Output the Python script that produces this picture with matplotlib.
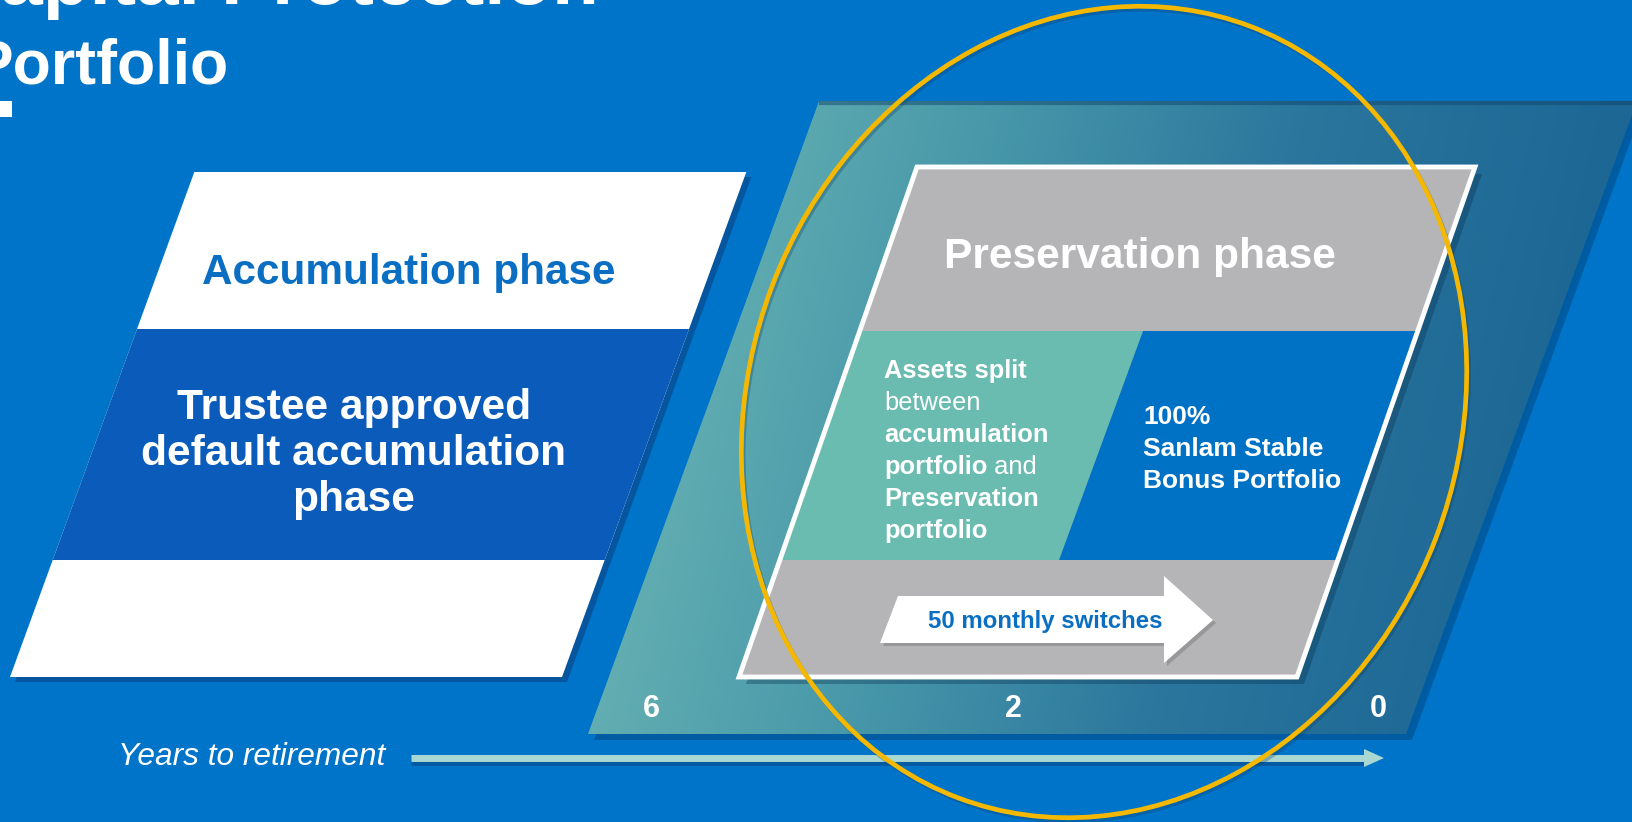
import numpy as np
import matplotlib.pyplot as plt
from matplotlib.patches import Polygon, Ellipse, Rectangle
from matplotlib.colors import LinearSegmentedColormap

plt.rcParams['font.family'] = ['Liberation Sans', 'DejaVu Sans']

W, H = 1633, 822

# slide texts
title_lines = ["Capital Protection", "Portfolio"]
accum_head = "Accumulation phase"
accum_body = ["Trustee approved", "default accumulation", "phase"]
pres_head = "Preservation phase"
split_lines = [["Assets split"], ["between"], ["accumulation"],
               ["portfolio", " and"], ["Preservation"], ["portfolio"]]
split_weights = [["bold"], ["normal"], ["bold"], ["bold", "normal"], ["bold"], ["bold"]]
stable_lines = ["100%", "Sanlam Stable", "Bonus Portfolio"]
switch_label = "50 monthly switches"
years = [6, 2, 0]
years_x = [651, 1013, 1378]
axis_label = "Years to retirement"

bg = '#0074c8'
white = '#ffffff'
dark_band = '#0b5cba'
grey = '#b5b5b7'
teal = '#6abbb0'
mid_blue = '#0072c6'
text_blue = '#0a6fc2'
gold = '#f5b800'


def para(xl_bot, xr_bot, y_top, y_bot, k):
    d = k * (y_bot - y_top)
    return [(xl_bot + d, y_top), (xr_bot + d, y_top), (xr_bot, y_bot), (xl_bot, y_bot)]


def shift(pts, dx, dy):
    return [(x + dx, y + dy) for x, y in pts]


fig = plt.figure(figsize=(W / 100, H / 100), dpi=100)
fig.patch.set_facecolor(bg)
ax = fig.add_axes([0, 0, 1, 1])
ax.set_xlim(0, W)
ax.set_ylim(H, 0)
ax.axis('off')
ax.set_facecolor(bg)

# title (cut off by the slide edge as in the original)
ax.text(-55, 4, title_lines[0], color=white, fontsize=55, fontweight='bold', va='baseline')
ax.text(-28, 83, title_lines[1], color=white, fontsize=45, fontweight='bold', va='baseline')
ax.add_patch(Rectangle((0, 101), 12, 16, color=white, lw=0))

# left parallelogram (accumulation)
k = 0.365
left = para(10, 562, 172, 677, k)
ax.add_patch(Polygon(shift(left, 5, 5), closed=True, color='#084f95', alpha=0.8, lw=0, zorder=1))
ax.add_patch(Polygon(left, closed=True, color=white, lw=0, zorder=2))
band = para(10 + k * 117, 562 + k * 117, 329, 560, k)
ax.add_patch(Polygon(band, closed=True, color=dark_band, lw=0, zorder=3))
ax.text(409, 284, accum_head, color=text_blue, fontsize=30.4, fontweight='bold',
        ha='center', va='baseline', zorder=4)
for i, line in enumerate(accum_body):
    ax.text(354, 419 + 46 * i, line, color=white, fontsize=30.6, fontweight='bold',
            ha='center', va='baseline', zorder=4)

# big teal parallelogram with gradient
big = para(588, 1406, 101, 734, k)
ax.add_patch(Polygon(shift(big, 6, 6), closed=True, color='#003f75', alpha=0.45, lw=0, zorder=1))
big_patch = Polygon(big, closed=True, facecolor='none', lw=0, zorder=2)
ax.add_patch(big_patch)
cmap = LinearSegmentedColormap.from_list('tealgrad', ['#68b3b3', '#4898aa', '#2a769d', '#1d6795'])
gx, gy = np.meshgrid(np.linspace(560, W, 400), np.linspace(95, 740, 120))
grad = np.clip((gx - 600) / 950 + (gy - 420) / 4000, 0, 1)
img = ax.imshow(grad, cmap=cmap, extent=[560, W, 740, 95], origin='upper',
                aspect='auto', zorder=2, interpolation='bilinear')
img.set_clip_path(big_patch)
ax.plot([big[0][0], big[1][0]], [big[0][1] + 2, big[1][1] + 2], color='#12456b',
        lw=3, alpha=0.5, zorder=3, solid_capstyle='butt')

# inner grey parallelogram
k2 = 0.349
inner = para(739, 1297, 167, 677, k2)
ax.add_patch(Polygon(shift(inner, 7, 7), closed=True, color='#0a3050', alpha=0.35, lw=0, zorder=4))
ax.add_patch(Polygon(inner, closed=True, color=grey, lw=0, zorder=5))
yb_top, yb_bot = 331, 560
xl_b = 739 + k2 * (677 - yb_bot)
xr_b = 1297 + k2 * (677 - yb_bot)
d2 = k2 * (yb_bot - yb_top)
div_bot, div_top = 1059, 1143
ax.add_patch(Polygon([(xl_b + d2, yb_top), (div_top, yb_top), (div_bot, yb_bot), (xl_b, yb_bot)],
                     closed=True, color=teal, lw=0, zorder=6))
ax.add_patch(Polygon([(div_top, yb_top), (xr_b + d2, yb_top), (xr_b, yb_bot), (div_bot, yb_bot)],
                     closed=True, color=mid_blue, lw=0, zorder=6))
ax.add_patch(Polygon(inner, closed=True, fill=False, ec=white, lw=3.5, joinstyle='miter', zorder=7))

ax.text(1140, 268, pres_head, color=white, fontsize=30.6, fontweight='bold',
        ha='center', va='baseline', zorder=8)

fig.canvas.draw()
renderer = fig.canvas.get_renderer()
for i, (parts, weights) in enumerate(zip(split_lines, split_weights)):
    x = 884
    for part, wt in zip(parts, weights):
        t = ax.text(x, 378 + 32 * i, part, color=white, fontsize=18.4, fontweight=wt,
                    ha='left', va='baseline', zorder=8)
        bb = t.get_window_extent(renderer=renderer)
        x += bb.width * (W / fig.bbox.width)

for i, line in enumerate(stable_lines):
    ax.text(1143, 424 + 32 * i, line, color=white, fontsize=19, fontweight='bold',
            ha='left', va='baseline', zorder=8)

# switch arrow
arrow = [(898, 596), (1164, 596), (1164, 576), (1213, 620), (1164, 663), (1164, 643), (880, 643)]
ax.add_patch(Polygon(shift(arrow, 3, 3), closed=True, color='#7d7d80', alpha=0.5, lw=0, zorder=8))
ax.add_patch(Polygon(arrow, closed=True, color=white, lw=0, zorder=9))
ax.text(1045, 628, switch_label, color=text_blue, fontsize=17.3, fontweight='bold',
        ha='center', va='baseline', zorder=10)

# years
for yv, xv in zip(years, years_x):
    ax.text(xv, 717, str(yv), color=white, fontsize=22, fontweight='bold',
            ha='center', va='baseline', zorder=8)

# time axis arrow
ax.plot([411, 1366], [762, 762], color='#00559a', lw=5, alpha=0.8, zorder=3, solid_capstyle='butt')
ax.plot([411, 1366], [758, 758], color='#a9d8d3', lw=5, zorder=4, solid_capstyle='butt')
ax.add_patch(Polygon([(1364, 749), (1384, 758), (1364, 767)], closed=True, color='#a9d8d3',
                     lw=0, zorder=4))
ax.text(385, 765, axis_label, color=white, fontsize=22.8, fontstyle='italic',
        ha='right', va='baseline', zorder=4)

# highlight ellipse (tilted, top leaning right)
ax.add_patch(Ellipse((1106, 415), 710, 825, angle=20.75, fill=False, ec='#0a3a66',
                     lw=3.2, alpha=0.3, zorder=11))
ax.add_patch(Ellipse((1104, 412), 710, 825, angle=20.75, fill=False, ec=gold, lw=3.4, zorder=12))

fig.savefig('out.png', dpi=100, facecolor=bg)
